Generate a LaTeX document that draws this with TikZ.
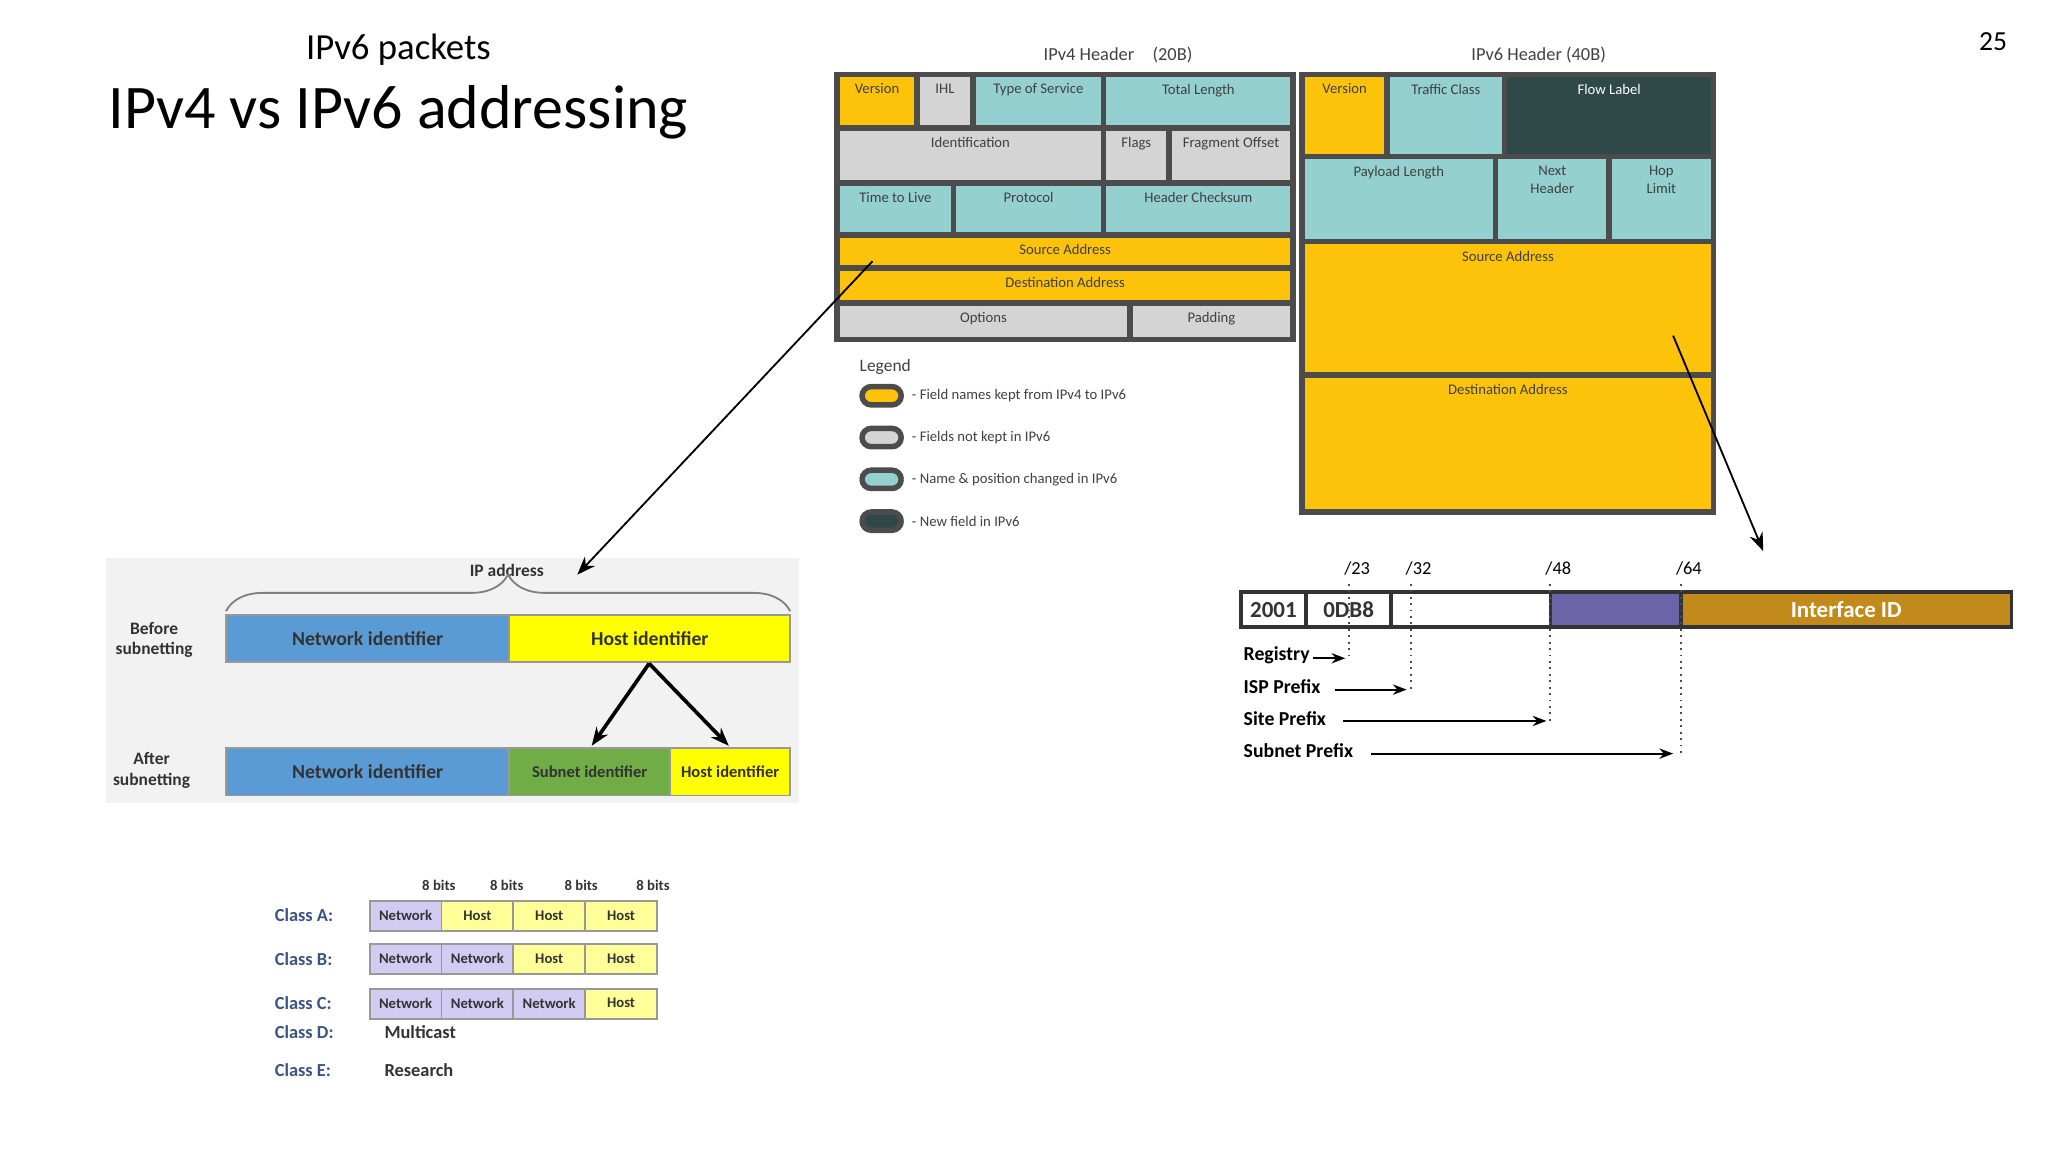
\documentclass[tikz,border=0pt]{standalone}
\usepackage{fontspec}
\setmainfont{Carlito}
\usetikzlibrary{positioning,arrows.meta,decorations.pathreplacing}
\definecolor{giallo}{HTML}{FCC30A}
\definecolor{grigio}{HTML}{D4D4D4}
\definecolor{turchese}{HTML}{93D0CF}
\definecolor{scuro}{HTML}{2F4848}
\definecolor{blu}{HTML}{5B9BD5}
\definecolor{limone}{HTML}{FFFF00}
\definecolor{verde}{HTML}{70AD47}
\definecolor{viola}{HTML}{6B64A6}
\definecolor{oro}{HTML}{C28A1A}
\definecolor{lilla}{HTML}{D2CBF2}
\definecolor{crema}{HTML}{FFFF99}
\definecolor{classe}{HTML}{3A5583}
\tikzset{
  hdr/.style={draw=black!70,line width=1.2pt},
  hdr text/.style={font={\fontsize{3.2}{3.8}\selectfont},text=black!75,anchor=north,align=center,inner sep=1pt},
  bar/.style={draw=black!40,thin},
  bar text/.style={font={\fontsize{4.3}{5}\selectfont\bfseries},text=black!80},
  cls cell/.style={draw=black!40,thin},
  cls text/.style={font={\fontsize{3.2}{4}\selectfont\bfseries},text=black!80},
  cls label/.style={font={\fontsize{4}{5}\selectfont\bfseries},text=classe,anchor=west},
  addr text/.style={font={\fontsize{4.3}{5}\selectfont\bfseries},anchor=west,inner sep=1pt},
  dots/.style={densely dotted,black!70},
  tip/.style={-{Stealth[length=4pt]}},
}
\begin{document}
\begin{tikzpicture}[x=0.01cm,y=-0.01cm]
\useasboundingbox (0,0) rectangle (1568,882);
% titles
\node (sub) at (305,38) {\fontsize{8}{9}\selectfont IPv6 packets};
\node (title) at (305,86) {\fontsize{13.5}{15}\selectfont IPv4 vs IPv6 addressing};
\node (page) at (1526,32) {\fontsize{6}{7}\selectfont 25};

% IPv4 header
\node[hdr text,anchor=center,font={\fontsize{4}{5}\selectfont}] (v4title) at (856,42) {IPv4 Header\quad (20B)};
\foreach \xa/\xb/\ya/\yb/\c/\t [count=\i] in {
  641/702/57/98/giallo/Version, 702/745/57/98/grigio/IHL, 745/845/57/98/turchese/Type of Service, 845/990/57/98/turchese/Total Length,
  641/845/98/140/grigio/Identification, 845/895/98/140/grigio/Flags, 895/990/98/140/grigio/Fragment Offset,
  641/730/140/180/turchese/Time to Live, 730/845/140/180/turchese/Protocol, 845/990/140/180/turchese/Header Checksum,
  641/990/180/205/giallo/Source Address, 641/990/205/232/giallo/Destination Address,
  641/865/232/260/grigio/Options, 865/990/232/260/grigio/Padding}{
  \path[hdr,fill=\c] (\xa,\ya) rectangle (\xb,\yb);
  \node[hdr text] (v4f\i) at ({(\xa+\xb)/2},\ya+3) {\t};
}

% IPv6 header
\node[hdr text,anchor=center,font={\fontsize{4}{5}\selectfont}] (v6title) at (1178,42) {IPv6 Header (40B)};
\foreach \xa/\xb/\ya/\yb/\c/\t [count=\i] in {
  997/1062/57/120/giallo/Version, 1062/1152/57/120/turchese/Traffic Class, 1152/1312/57/120/scuro/{\textcolor{white}{Flow Label}},
  997/1145/120/185/turchese/Payload Length, 1145/1232/120/185/turchese/{Next\\Header}, 1232/1312/120/185/turchese/{Hop\\Limit},
  997/1312/185/287/giallo/Source Address, 997/1312/287/392/giallo/Destination Address}{
  \path[hdr,fill=\c] (\xa,\ya) rectangle (\xb,\yb);
  \node[hdr text] (v6f\i) at ({(\xa+\xb)/2},\ya+3) {\t};
}

% legend
\node[hdr text,anchor=west,font={\fontsize{3.8}{5}\selectfont}] (legend) at (654,281) {Legend};
\foreach \y/\c/\t [count=\i] in {303/giallo/- Field names kept from IPv4 to IPv6, 335/grigio/- Fields not kept in IPv6,
  367/turchese/- Name \& position changed in IPv6, 399/scuro/- New field in IPv6}{
  \path[draw=black!70,line width=1.2pt,fill=\c,rounded corners=2pt] (660,\y-7) rectangle (690,\y+7);
  \node[hdr text,anchor=west] (leg\i) at (694,\y) {\t};
}

% subnetting panel
\fill[black!5] (81,427) rectangle (612,615);
\node[bar text,font={\fontsize{3.8}{5}\selectfont\bfseries}] (ipaddr) at (388,437) {IP address};
\draw[black!50,decorate,decoration={brace,amplitude=8pt}] (173,468) -- (605,468);
\node[bar text,align=center,font={\fontsize{3.8}{4.5}\selectfont\bfseries}] (before) at (118,490) {Before\\subnetting};
\node[bar text,align=center,font={\fontsize{3.8}{4.5}\selectfont\bfseries}] (after) at (116,590) {After\\subnetting};
\foreach \xa/\xb/\ya/\yb/\c/\t/\s [count=\i] in {173/390/471/507/blu/Network identifier/4.3, 390/605/471/507/limone/Host identifier/4.3,
  173/390/573/609/blu/Network identifier/4.3, 390/513/573/609/verde/Subnet identifier/3.6, 513/605/573/609/limone/Host identifier/3.6}{
  \path[bar,fill=\c] (\xa,\ya) rectangle (\xb,\yb);
  \node[bar text,font={\fontsize{\s}{5}\selectfont\bfseries}] (sb\i) at ({(\xa+\xb)/2},{(\ya+\yb)/2}) {\t};
}
\coordinate (split) at (497,508);
\coordinate (splitL) at (453,571);
\coordinate (splitR) at (558,571);
\draw[tip,thick] (split) -- (splitL);
\draw[tip,thick] (split) -- (splitR);

% long arrows
\coordinate (fromv4) at (668,200);
\coordinate (tosub) at (442,440);
\coordinate (fromv6) at (1281,257);
\coordinate (toaddr) at (1350,422);
\draw[tip] (fromv4) -- (tosub);
\draw[tip] (fromv6) -- (toaddr);

% IPv6 address
\foreach \xa/\xb/\c/\t [count=\i] in {950/1000/white/2001, 1000/1065/white/0DB8, 1065/1187/white/{}, 1187/1287/viola/{}, 1287/1540/oro/{\textcolor{white}{Interface ID}}}{
  \path[draw=black!80,thick,fill=\c] (\xa,453) rectangle (\xb,480);
  \node[bar text,font={\fontsize{5}{6}\selectfont\bfseries}] (ad\i) at ({(\xa+\xb)/2},467) {\t};
}
\foreach \x/\t/\yb [count=\i] in {1033/23/505, 1080/32/528, 1187/48/552, 1287/64/577}{
  \node[addr text,font={\fontsize{4}{5}\selectfont}] (pl\i) at (\x-8,435) {/\t};
  \draw[dots] (\x,447) -- (\x,\yb);
}
\foreach \y/\t/\xa/\xb [count=\i] in {502/Registry/1005/1030, 526/ISP Prefix/1022/1077, 550/Site Prefix/1028/1184, 575/Subnet Prefix/1050/1281}{
  \node[addr text] (pf\i) at (948,\y) {\t};
  \coordinate (pa\i) at (\xa,\y+2);
  \coordinate (pb\i) at (\xb,\y+2);
  \draw[-{Stealth[length=3pt]}] (pa\i) -- (pb\i);
}

% address classes
\foreach \x [count=\i] in {336,388,445,500}{
  \node[cls text] (bits\i) at (\x,678) {8 bits};
}
\foreach \y/\n/\cs [count=\r] in {701/A/{lilla/Network,crema/Host,crema/Host,crema/Host},
  734/B/{lilla/Network,lilla/Network,crema/Host,crema/Host},
  768/C/{lilla/Network,lilla/Network,lilla/Network,crema/Host}}{
  \node[cls label] (cl\r) at (198,\y) {Class \n:};
  \foreach \c/\t [count=\k] in \cs{
    \path[cls cell,fill=\c] ({283+55*(\k-1)},\y-11) rectangle ({283+55*\k},\y+12);
    \node[cls text] (cc\r\k) at ({283+55*(\k-1)+27.5},\y) {\t};
  }
}
\node[cls label] (clD) at (198,790) {Class D:};
\node[cls label,text=black!80] (mc) at (282,790) {Multicast};
\node[cls label] (clE) at (198,819) {Class E:};
\node[cls label,text=black!80] (rs) at (282,819) {Research};
\end{tikzpicture}
\end{document}
